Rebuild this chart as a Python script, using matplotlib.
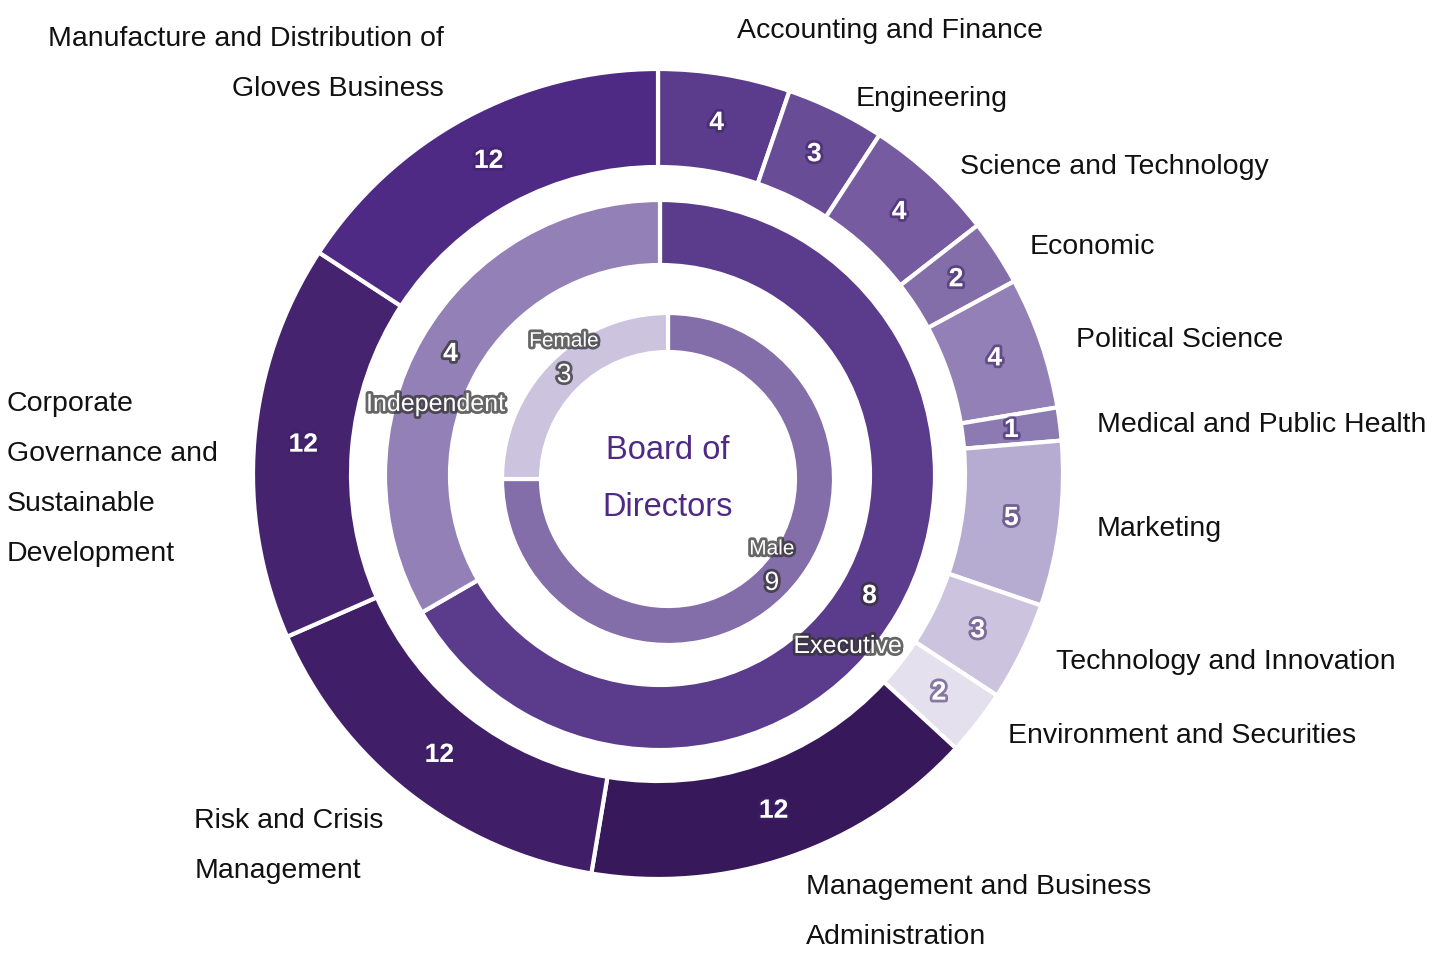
import numpy as np
import matplotlib.pyplot as plt
import matplotlib.patheffects as pe

plt.rcParams['font.family'] = ['Liberation Sans', 'DejaVu Sans']

# outer ring: board expertise
outer_labels = ['Accounting and Finance', 'Engineering', 'Science and Technology',
                'Economic', 'Political Science', 'Medical and Public Health',
                'Marketing', 'Technology and Innovation', 'Environment and Securities',
                'Management and Business\nAdministration', 'Risk and Crisis\nManagement',
                'Corporate\nGovernance and\nSustainable\nDevelopment',
                'Manufacture and Distribution of\nGloves Business']
outer_values = [4, 3, 4, 2, 4, 1, 5, 3, 2, 12, 12, 12, 12]
outer_colors = ['#5b3b8c', '#684c96', '#765ba0', '#836eaa', '#9380b6', '#8c7ab2',
                '#b6acd1', '#ccc4df', '#e4e0ee', '#37185a', '#401f68', '#45236f',
                '#4e2a84']

# middle ring: role
middle_labels = ['Executive', 'Independent']
middle_values = [8, 4]
middle_colors = ['#5b3b8c', '#9380b6']

# inner ring: gender
inner_labels = ['Male', 'Female']
inner_values = [9, 3]
inner_colors = ['#836eaa', '#ccc4df']

W, H = 1435, 959
fig = plt.figure(figsize=(W / 100, H / 100), dpi=100)
ax = fig.add_axes([0, 0, 1, 1])


def ring(values, colors, center, radius, width):
    wedges, _ = ax.pie(values, colors=colors, startangle=90, counterclock=False,
                       radius=radius, center=center,
                       wedgeprops=dict(width=width, edgecolor='white', linewidth=3))
    return wedges


def polar(center, r, ang):
    a = np.deg2rad(ang)
    return center[0] + r * np.cos(a), center[1] + r * np.sin(a)


c_out = (658, H - 474)
c_mid = (660, H - 475)
c_in = (668, H - 479)

w_out = ring(outer_values, outer_colors, c_out, 405, 98)
w_mid = ring(middle_values, middle_colors, c_mid, 275, 65)
w_in = ring(inner_values, inner_colors, c_in, 166, 39)

num_glow = [pe.withStroke(linewidth=4, foreground='#3b2263', alpha=0.55)]
name_glow = [pe.withStroke(linewidth=4, foreground='#333333', alpha=0.75)]

# value labels + outside label anchors
anchors = []
for w, lab, val in zip(w_out, outer_labels, outer_values):
    mid = (w.theta1 + w.theta2) / 2
    x, y = polar(c_out, 356, mid)
    ax.text(x, y, str(val), ha='center', va='center', color='white',
            fontsize=19, fontweight='bold', path_effects=num_glow)
    c, s = np.cos(np.deg2rad(mid)), np.sin(np.deg2rad(mid))
    lx = c_out[0] + np.sign(c) * (435 * abs(c) + 7)
    ly = c_out[1] + 421 * s
    anchors.append([lx, ly, c >= 0, s, lab])

# push labels apart when two on the same side sit too close
min_gap = 68
for side in (True, False):
    idx = sorted([i for i, a in enumerate(anchors) if a[2] == side],
                 key=lambda i: anchors[i][1])
    for lo, up in zip(idx[:-1], idx[1:]):
        if anchors[up][1] - anchors[lo][1] < min_gap:
            anchors[up][1] = anchors[lo][1] + min_gap

for lx, ly, right, s, lab in anchors:
    ha = 'left' if right else 'right'
    if '\n' not in lab:
        ax.text(lx, ly, lab, ha=ha, va='center_baseline', fontsize=20.5,
                color='#111111')
    else:
        ma = ha if s > 0.3 else 'left'
        yc = ly + 40 if s > 0.3 else ly - 40
        ax.text(lx, yc, lab, ha=ha, va='center', ma=ma, fontsize=20.5,
                color='#111111', linespacing=2.2)

for w, lab, val, dx in zip(w_mid, middle_labels, middle_values, (-22, -15)):
    mid = (w.theta1 + w.theta2) / 2
    x, y = polar(c_mid, 242, mid)
    ax.text(x, y, str(val), ha='center', va='center', color='white',
            fontsize=19, fontweight='bold', path_effects=name_glow)
    ax.text(x + dx, y - 50, lab, ha='center', va='center', color='white',
            fontsize=18, path_effects=name_glow)

for w, lab, val in zip(w_in, inner_labels, inner_values):
    mid = (w.theta1 + w.theta2) / 2
    x, y = polar(c_in, 147, mid)
    ax.text(x, y, str(val), ha='center', va='center', color='white',
            fontsize=19, path_effects=name_glow)
    ax.text(x, y + 34, lab, ha='center', va='center', color='white',
            fontsize=15, path_effects=name_glow)

ax.text(c_in[0], c_in[1], 'Board of\nDirectors', ha='center', va='center',
        color='#4e2a84', fontsize=23.5, linespacing=2.1)

ax.set_xlim(0, W)
ax.set_ylim(0, H)
ax.set_aspect('equal')
ax.axis('off')
fig.savefig('out.png', dpi=100)
